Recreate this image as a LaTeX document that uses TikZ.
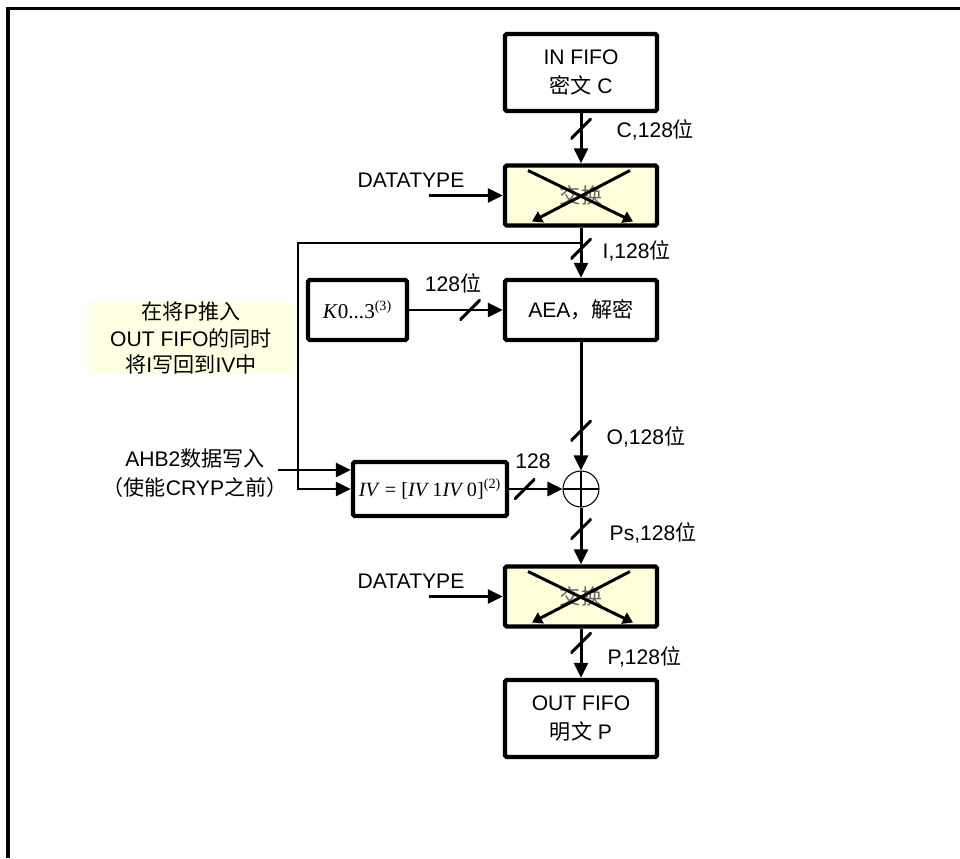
\documentclass[tikz,border=0pt]{standalone}
\usepackage{fontspec}
\setmainfont{Liberation Sans}
\newfontfamily\zhfont{Noto Sans CJK SC}
\newfontfamily\tmsfont{Liberation Serif}
\usetikzlibrary{arrows.meta}
\definecolor{swapyellow}{RGB}{255,255,218}
\definecolor{noteyellow}{RGB}{255,255,228}
\tikzset{
  blk/.style={draw,line width=2.5pt,rounded corners=1pt,minimum width=3.04cm,align=center,fill=white},
  swapbox/.style={blk,fill=swapyellow,minimum height=1.2cm,text=black!60},
  wire/.style={line width=1.7pt},
  swaparrow/.style={line width=1.7pt,-{Triangle[length=0.2cm,width=0.24cm]}},
  busmark/.style={inner sep=0pt,minimum size=0.42cm,
    path picture={\draw[-,line width=1.7pt] (path picture bounding box.south west) -- (path picture bounding box.north east);}},
  xorgate/.style={circle,draw,line width=0.6pt,minimum size=0.72cm,inner sep=0pt,fill=white,
    path picture={\draw[-,line width=0.6pt] (path picture bounding box.north) -- (path picture bounding box.south)
      (path picture bounding box.west) -- (path picture bounding box.east);}},
  >={Triangle[length=0.3cm,width=0.28cm]}
}
\begin{document}
\begin{tikzpicture}[x=1cm,y=1cm,font=\fontsize{12}{16}\selectfont]
\useasboundingbox (0,0) rectangle (19.2,17.16);
\draw[line width=1.9pt] (0.16,0) -- (0.16,16.99) -- (19.2,16.99);

\node[blk,minimum height=1.54cm] (infifo) at (11.62,15.71) {IN FIFO\\{\zhfont 密文} C};
\node[swapbox] (swap1) at (11.62,13.25) {\zhfont 交换};
\node[blk,minimum height=1.2cm] (aea) at (11.62,10.96) {AEA{\zhfont ，解密}};
\node[blk,minimum width=1.98cm,minimum height=1.2cm,font=\tmsfont\fontsize{12}{16}\selectfont] (keys) at (7.15,10.96)
  {\textit{K}0...3\textsuperscript{(3)}};
\node[xorgate] (xor) at (11.62,7.38) {};
\node[blk,minimum width=3.08cm,minimum height=1.08cm,inner sep=1pt,font=\tmsfont\fontsize{11.5}{16}\selectfont] (iv) at (8.6,7.38)
  {\textit{IV} = [\textit{IV}\,1\textit{IV}\,0]\textsuperscript{(2)}};
\node[swapbox] (swap2) at (11.62,5.23) {\zhfont 交换};
\node[blk,minimum height=1.54cm] (outfifo) at (11.62,2.79) {OUT FIFO\\{\zhfont 明文} P};

\node[fill=noteyellow,minimum width=4.16cm,minimum height=1.4cm,align=center,inner sep=0pt,
  font=\fontsize{12}{15}\selectfont] (note) at (3.82,10.4)
  {{\zhfont 在将}P{\zhfont 推入}\\OUT FIFO{\zhfont 的同时}\\{\zhfont 将}I{\zhfont 写回到}IV{\zhfont 中}};
\node[align=center,font=\fontsize{12}{16.5}\selectfont] (ahb) at (3.9,7.69)
  {AHB2{\zhfont 数据写入}\\{\zhfont （使能}CRYP{\zhfont 之前）}};
\node (dt1) at (8.22,13.56) {DATATYPE};
\node (dt2) at (8.22,5.54) {DATATYPE};

\node[anchor=west] (clab) at (12.21,14.56) {C,128{\zhfont 位}};
\node[anchor=west] (ilab) at (11.93,12.14) {I,128{\zhfont 位}};
\node (klab) at (9.06,11.5) {128{\zhfont 位}};
\node[anchor=west] (olab) at (12.01,8.42) {O,128{\zhfont 位}};
\node (ivlab) at (10.66,7.94) {128};
\node[anchor=west] (pslab) at (12.07,6.5) {Ps,128{\zhfont 位}};
\node[anchor=west] (plab) at (12.03,4.02) {P,128{\zhfont 位}};

\draw[wire,->] (infifo) -- node[busmark,pos=0.31]{} (swap1);
\draw[wire,->] (swap1) -- node[busmark,pos=0.42]{} (aea);
\draw[wire,->] (keys) -- node[busmark,pos=0.65]{} (aea);
\draw[wire,->] (aea) -- node[busmark,pos=0.69]{} (xor);
\draw[wire,->] (iv) -- node[busmark,pos=0.29]{} (xor);
\draw[wire,->] (xor) -- node[busmark,pos=0.38]{} (swap2);
\draw[wire,->] (swap2) -- node[busmark,pos=0.29]{} (outfifo);

\coordinate (dt1in) at (8.58,13.25);
\coordinate (dt2in) at (8.58,5.23);
\draw[wire,->] (dt1in) -- (swap1.west);
\draw[wire,->] (dt2in) -- (swap2.west);

\coordinate (tap) at (11.62,12.3);
\coordinate (fbturn) at (5.96,12.3);
\draw[wire,->] (tap) -- (fbturn) |- (iv.west);
\coordinate (ahbin) at (5.56,7.76);
\draw[wire,->] (ahbin) -- (ahbin -| iv.west);

\draw[swaparrow] ([shift={(-1.06,0.5)}]swap1.center) -- ([shift={(1.04,-0.52)}]swap1.center);
\draw[swaparrow] ([shift={(0.98,0.5)}]swap1.center) -- ([shift={(-0.98,-0.52)}]swap1.center);
\draw[swaparrow] ([shift={(-1.06,0.5)}]swap2.center) -- ([shift={(1.04,-0.52)}]swap2.center);
\draw[swaparrow] ([shift={(0.98,0.5)}]swap2.center) -- ([shift={(-0.98,-0.52)}]swap2.center);
\end{tikzpicture}
\end{document}
